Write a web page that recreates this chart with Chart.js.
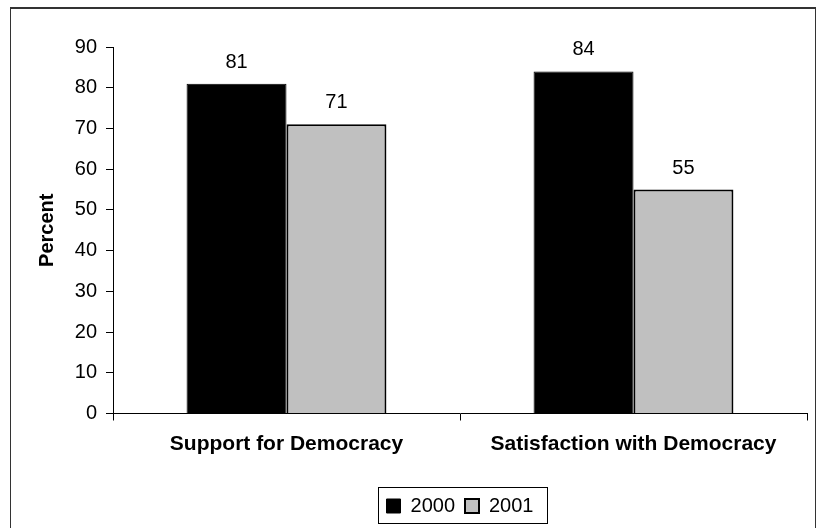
<!DOCTYPE html>
<html>
<head>
<meta charset="utf-8">
<script src="https://cdn.jsdelivr.net/npm/chart.js@4.4.1/dist/chart.umd.min.js"></script>
<style>
  html, body { margin: 0; padding: 0; background: #fff; overflow: hidden; }
  #frame {
    position: absolute; left: 10px; top: 7px; width: 804px; height: 600px;
    border-top: 2px solid #333; border-left: 1px solid #333; border-right: 1px solid #333;
  }
  #myChart { position: absolute; left: 0; top: 0; }
</style>
</head>
<body>
<div id="frame"></div>
<canvas id="myChart" width="816" height="528"></canvas>
<script>
const categories = ['Support for Democracy', 'Satisfaction with Democracy'];
const years = ['2000', '2001'];
const values2000 = [81, 84];
const values2001 = [71, 55];
const yMax = 90;
const yStep = 10;

const FONT = '"Liberation Sans", Arial, sans-serif';

// numbers above each bar
const valueLabels = {
    id: 'valueLabels',
    afterDatasetsDraw(chart) {
        const ctx = chart.ctx;
        ctx.save();
        ctx.font = '20px ' + FONT;
        ctx.fillStyle = '#000';
        ctx.textAlign = 'center';
        ctx.textBaseline = 'alphabetic';
        chart.data.datasets.forEach((ds, i) => {
            chart.getDatasetMeta(i).data.forEach((bar, j) => {
                ctx.fillText(ds.data[j], bar.x, bar.y - 16);
            });
        });
        ctx.restore();
    }
};

// box round the legend
const legendFrame = {
    id: 'legendFrame',
    afterDraw(chart) {
        const boxes = chart.legend.legendHitBoxes;
        if (!boxes || !boxes.length) return;
        const ctx = chart.ctx;
        const first = boxes[0];
        const last = boxes[boxes.length - 1];
        const x1 = Math.round(first.left - 9) + 0.5;
        const x2 = Math.round(last.left + last.width + 14) + 0.5;
        const cy = first.top + first.height / 2;
        const y1 = Math.round(cy - 19) + 0.5;
        ctx.save();
        ctx.strokeStyle = '#000';
        ctx.lineWidth = 1;
        ctx.strokeRect(x1, y1, x2 - x1, 36);
        ctx.restore();
    }
};

const ctx = document.getElementById('myChart');
new Chart(ctx, {
    type: 'bar',
    data: {
        labels: categories,
        datasets: [
            { label: years[0], data: values2000, backgroundColor: '#000000', borderColor: '#000000', borderWidth: 1 },
            { label: years[1], data: values2001, backgroundColor: '#c0c0c0', borderColor: '#000000', borderWidth: 2 }
        ]
    },
    options: {
        responsive: false,
        animation: false,
        events: [],
        categoryPercentage: 0.576,
        barPercentage: 1,
        layout: { padding: { left: 0, right: 9, top: 47, bottom: 2 } },
        scales: {
            x: {
                grid: { drawOnChartArea: false, drawTicks: true, tickLength: 7, color: '#000', offset: true },
                border: { display: true, color: '#000', width: 1 },
                ticks: { color: '#000', padding: 11, maxRotation: 0, font: { family: FONT, size: 21, weight: 'bold' } },
                afterFit: (scale) => { scale.height = 72.5; }
            },
            y: {
                min: 0,
                max: yMax,
                grid: { drawOnChartArea: false, drawTicks: true, tickLength: 7, color: '#000' },
                border: { display: true, color: '#000', width: 1 },
                ticks: { stepSize: yStep, color: '#000', padding: 9, font: { family: FONT, size: 20 } },
                title: {
                    display: true,
                    text: 'Percent',
                    color: '#000',
                    padding: { top: 35, bottom: 0 },
                    font: { family: FONT, size: 20, weight: 'bold' }
                },
                afterFit: (scale) => { scale.width = 113; }
            }
        },
        plugins: {
            tooltip: { enabled: false },
            legend: {
                position: 'bottom',
                fullSize: false,
                labels: {
                    color: '#000',
                    boxWidth: 14,
                    boxHeight: 14,
                    padding: 10,
                    font: { family: FONT, size: 20 }
                }
            }
        }
    },
    plugins: [valueLabels, legendFrame]
});
</script>
</body>
</html>
